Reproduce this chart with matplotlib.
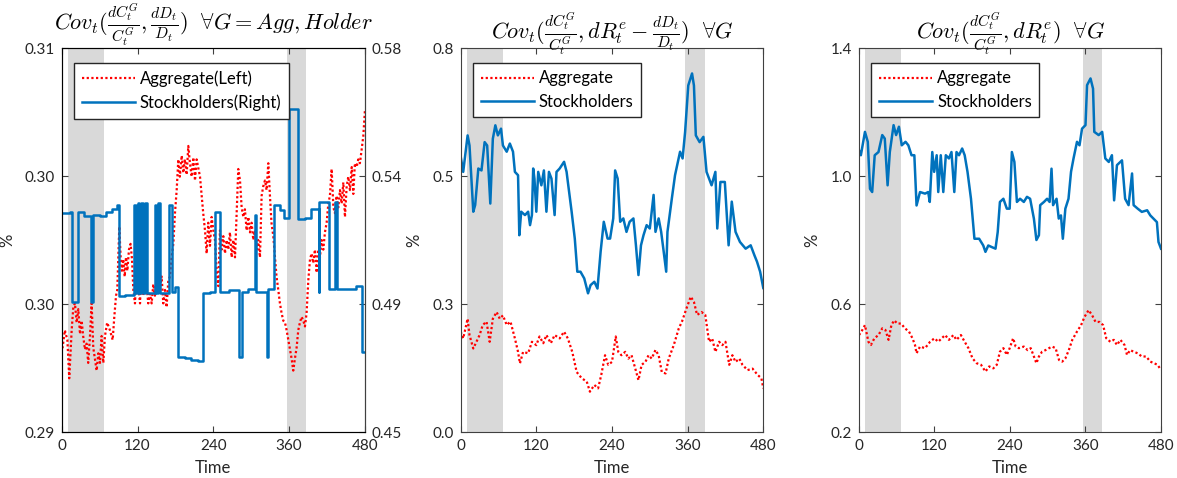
import numpy as np
import matplotlib
matplotlib.use('Agg')
import matplotlib.pyplot as plt
from matplotlib.ticker import FormatStrFormatter

plt.rcParams['font.family'] = ['Lato', 'DejaVu Sans']
plt.rcParams['mathtext.fontset'] = 'cm'

blue = '#0072BD'
shade = '#d9d9d9'
axis_grey = '#404040'
text_grey = '#262626'

# recession bands (months)
bands = [(10, 67), (356, 387)]

# panel 1: aggregate (left axis)
agg1_t = [0, 1.5, 5, 9, 12, 15.8, 18.4, 21, 23.7, 26.3, 29, 31.6, 34, 36.9, 39.5, 42,
          44.8, 47.4, 50, 52.7, 55.3, 58, 60.6, 63.2, 65.9, 68.5, 72, 76.4, 80.7, 83.3,
          86, 88, 91.2, 93.3, 95.4, 97.5, 99.7, 101.8, 103.9, 106.5, 109, 111.3, 113.4,
          116, 118.7, 121.3, 124, 126.5, 129, 131.8, 134.5, 137, 139.7, 142.4, 145,
          147.6, 150.3, 154.5, 158.2, 160.8, 163.5, 166, 168.8, 171.4, 174, 176.7, 179.3,
          182, 184.6, 187, 190, 192.5, 195, 197.8, 200.4, 203, 205.7, 208.3, 211, 213.6,
          216, 218.9, 221.5, 224, 226.8, 229.4, 232, 234.7, 237.3, 240, 242.6, 245.2,
          247.9, 250.5, 253, 255.8, 258.4, 261, 263.7, 266.3, 269, 271.6, 274.3, 276.9,
          279.5, 282.2, 284.8, 287.5, 290, 292.7, 295.4, 298, 300.6, 303.3, 306, 308.5,
          311, 313.8, 316.4, 319, 321.7, 324.3, 327, 329.6, 332, 334.9, 337.5, 340, 342.8,
          345.4, 348, 350.7, 353.4, 356, 358.6, 361.3, 364, 366.5, 369, 371.8, 374.4, 377,
          379.7, 382.4, 385, 387.6, 390.3, 393, 395.5, 398, 400.8, 403.5, 406, 408.7,
          411.4, 414, 416.6, 419.3, 422, 424.5, 427.2, 430, 432.4, 435, 437.8, 440.4, 443,
          445.7, 448.3, 451, 453.6, 456.2, 459, 461.5, 464, 466.8, 469.4, 472, 474.7,
          477.3, 480]
agg1_v = [0.2944, 0.2944, 0.2953, 0.2948, 0.2928, 0.2953, 0.2965, 0.2967, 0.2957, 0.2964,
          0.2951, 0.2958, 0.2950, 0.2943, 0.2946, 0.2936, 0.2950, 0.2967, 0.2944, 0.2938,
          0.2932, 0.2941, 0.2936, 0.2950, 0.2936, 0.2950, 0.2957, 0.2953, 0.2948, 0.2960,
          0.2971, 0.2974, 0.3007, 0.2991, 0.2984, 0.2990, 0.2981, 0.2991, 0.2984, 0.2995,
          0.2998, 0.2990, 0.2974, 0.2967, 0.2984, 0.2976, 0.2967, 0.2988, 0.2971, 0.2984,
          0.2976, 0.2967, 0.2972, 0.2967, 0.2977, 0.2971, 0.2979, 0.2974, 0.2981, 0.2967,
          0.2974, 0.2965, 0.2979, 0.2981, 0.2991, 0.2998, 0.3014, 0.3026, 0.3042, 0.3033,
          0.3044, 0.3035, 0.3042, 0.3034, 0.3049, 0.3040, 0.3033, 0.3043, 0.3031, 0.3042,
          0.3038, 0.3033, 0.3023, 0.3014, 0.3005, 0.2993, 0.3009, 0.2997, 0.3012, 0.3005,
          0.3000, 0.2984, 0.2976, 0.3005, 0.2995, 0.3002, 0.2993, 0.3000, 0.2995, 0.3004,
          0.2991, 0.3000, 0.2991, 0.3014, 0.3037, 0.3031, 0.3017, 0.3012, 0.3016, 0.3005,
          0.3012, 0.3004, 0.3009, 0.3000, 0.3005, 0.2995, 0.3000, 0.2991, 0.3023, 0.3028,
          0.3031, 0.3026, 0.3040, 0.3023, 0.3009, 0.3002, 0.2991, 0.2981, 0.2974, 0.2967,
          0.2962, 0.2958, 0.2957, 0.2953, 0.2948, 0.2943, 0.2938, 0.2932, 0.2938, 0.2944,
          0.2953, 0.2957, 0.2960, 0.2958, 0.2955, 0.2962, 0.2979, 0.2990, 0.2993, 0.2988,
          0.2995, 0.2983, 0.2995, 0.2991, 0.3000, 0.2995, 0.3004, 0.3009, 0.3019, 0.3023,
          0.3037, 0.3017, 0.3014, 0.3023, 0.3017, 0.3026, 0.3019, 0.3030, 0.3012, 0.3028,
          0.3033, 0.3026, 0.3038, 0.3024, 0.3040, 0.3038, 0.3042, 0.3040, 0.3047, 0.3054,
          0.3068]

# panel 1: stockholders (right axis), piecewise constant
hold1_t = [0, 13, 16, 26, 35, 46.5, 49.5, 60, 70, 80, 87, 90, 100, 114, 117.5, 120, 123,
           125.5, 129, 131.5, 134.5, 147.5, 150, 152.5, 155.5, 170, 174, 180, 184.5, 195,
           205, 215, 224, 235, 243, 251, 265, 280, 285, 295, 306, 308, 325, 327, 336, 345,
           352, 359, 374, 385, 395, 406.5, 408, 423, 433, 435, 450, 465, 474.5, 480]
hold1_v = [0.5240, 0.5245, 0.4940, 0.5245, 0.5230, 0.4940, 0.5235, 0.5230, 0.5245, 0.5255,
           0.5270, 0.4960, 0.4965, 0.5270, 0.4970, 0.5275, 0.4970, 0.5275, 0.4970, 0.5275,
           0.4970, 0.5270, 0.4970, 0.5275, 0.4970, 0.5270, 0.4975, 0.4990, 0.4755, 0.4750,
           0.4745, 0.4740, 0.4970, 0.4975, 0.5245, 0.4975, 0.4980, 0.4755, 0.4975, 0.4985,
           0.5235, 0.4975, 0.4755, 0.4985, 0.5270, 0.5250, 0.5225, 0.5595, 0.5220, 0.5225,
           0.5255, 0.4975, 0.5280, 0.4985, 0.5280, 0.4985, 0.4985, 0.4995, 0.4770, 0.4770]

# panel 2: Cov(dC/C, dR - dD/D)
hold2_t = [0, 4, 11, 14, 20, 23, 28, 33, 38, 42, 47, 51, 55, 59, 64, 67, 73, 78, 83, 86,
           91, 93, 96, 102, 107, 110, 113, 115, 117, 120, 123, 128, 132, 136, 140, 144,
           149, 152, 157, 164, 168, 170, 176, 181, 185, 190, 196, 202, 206, 212, 217, 222,
           227, 233, 237, 242, 245, 249, 253, 258, 263, 268, 274, 278, 282, 286, 290, 295,
           300, 306, 309, 314, 318, 322, 326, 328, 335, 340, 348, 352, 356, 361, 367, 370,
           373, 379, 385, 390, 398, 404, 407, 412, 419, 425, 430, 436, 443, 452, 460, 466,
           470, 475, 480]
hold2_v = [0.574, 0.542, 0.618, 0.597, 0.459, 0.473, 0.549, 0.545, 0.604, 0.597, 0.476,
           0.611, 0.639, 0.618, 0.632, 0.597, 0.584, 0.601, 0.584, 0.542, 0.535, 0.410,
           0.459, 0.452, 0.459, 0.431, 0.452, 0.549, 0.528, 0.459, 0.542, 0.514, 0.545,
           0.459, 0.542, 0.528, 0.452, 0.542, 0.549, 0.563, 0.542, 0.521, 0.459, 0.403,
           0.334, 0.334, 0.320, 0.289, 0.306, 0.313, 0.299, 0.376, 0.438, 0.403, 0.403,
           0.445, 0.545, 0.528, 0.438, 0.445, 0.417, 0.438, 0.445, 0.389, 0.327, 0.389,
           0.410, 0.431, 0.424, 0.494, 0.417, 0.445, 0.417, 0.376, 0.334, 0.417, 0.487,
           0.535, 0.584, 0.570, 0.625, 0.722, 0.747, 0.722, 0.618, 0.604, 0.615, 0.542,
           0.514, 0.542, 0.424, 0.521, 0.521, 0.389, 0.480, 0.417, 0.396, 0.382, 0.389,
           0.368, 0.355, 0.334, 0.300]
agg2_t = [0, 4, 11, 14, 20, 25, 30, 35, 41, 46, 51, 57, 62, 67, 73, 79, 86, 91, 94, 99,
          107, 113, 120, 125, 131, 136, 143, 149, 157, 164, 170, 177, 184, 192, 200, 205,
          212, 218, 223, 229, 234, 240, 246, 250, 255, 261, 266, 271, 277, 282, 287, 293,
          298, 303, 309, 314, 319, 325, 330, 338, 346, 351, 358, 365, 370, 375, 382, 388,
          394, 399, 404, 410, 415, 420, 426, 431, 436, 442, 447, 455, 463, 471, 477, 480]
agg2_v = [0.209, 0.195, 0.236, 0.202, 0.174, 0.188, 0.202, 0.223, 0.230, 0.188, 0.236,
          0.250, 0.236, 0.243, 0.223, 0.230, 0.195, 0.167, 0.143, 0.167, 0.164, 0.188,
          0.181, 0.199, 0.185, 0.202, 0.185, 0.202, 0.195, 0.209, 0.195, 0.167, 0.125,
          0.112, 0.105, 0.084, 0.098, 0.091, 0.119, 0.160, 0.140, 0.146, 0.199, 0.167,
          0.160, 0.167, 0.153, 0.160, 0.132, 0.108, 0.140, 0.146, 0.160, 0.153, 0.171,
          0.160, 0.125, 0.122, 0.153, 0.181, 0.216, 0.230, 0.257, 0.282, 0.271, 0.244,
          0.250, 0.244, 0.188, 0.195, 0.167, 0.188, 0.181, 0.188, 0.140, 0.160, 0.146,
          0.153, 0.140, 0.129, 0.132, 0.119, 0.112, 0.091]

# panel 3: Cov(dC/C, dR)
hold3_t = [0, 3, 9.5, 14, 17.5, 21, 25, 31, 37, 41, 45.5, 49, 55, 59, 63.5, 68, 74, 78.5,
           83.5, 88, 91.5, 97, 105, 110, 112.5, 116.5, 119.5, 123.5, 126, 130, 134, 138,
           143, 147, 151.5, 155, 159, 164, 168, 172.5, 178, 183.5, 191, 197.5, 201, 205.5,
           211, 217, 220.5, 224, 229.5, 235, 239.5, 243, 247, 251, 256, 262, 267, 272, 278,
           282, 286, 288, 294, 299, 303, 306, 308.5, 314, 317.5, 321, 324, 328, 333, 337,
           341, 346.5, 350.5, 354.5, 360, 362.5, 368, 372, 374, 381, 386.5, 391.5, 397,
           402, 405.5, 410, 418, 423, 428.5, 434, 436.5, 443, 449.5, 458, 463, 468, 473.5,
           476, 480]
hold3_v = [1.081, 1.065, 1.138, 1.107, 0.960, 0.950, 1.065, 1.075, 1.128, 1.117, 0.971,
           1.075, 1.159, 1.128, 1.154, 1.096, 1.107, 1.096, 1.065, 1.065, 0.908, 0.950,
           0.945, 0.950, 0.919, 1.075, 1.013, 1.065, 0.950, 1.065, 0.950, 1.065, 1.055,
           1.075, 0.950, 1.075, 1.065, 1.086, 1.065, 1.013, 0.929, 0.804, 0.804, 0.783,
           0.763, 0.783, 0.778, 0.773, 0.825, 0.919, 0.929, 0.898, 0.898, 1.075, 1.044,
           0.919, 0.929, 0.919, 0.935, 0.929, 0.867, 0.800, 0.815, 0.909, 0.919, 0.929,
           0.919, 1.023, 0.909, 0.929, 0.867, 0.877, 0.804, 0.898, 0.929, 1.013, 1.055,
           1.107, 1.096, 1.148, 1.159, 1.284, 1.305, 1.273, 1.138, 1.128, 1.138, 1.055,
           1.044, 1.065, 0.924, 1.034, 1.049, 0.929, 0.909, 1.008, 0.909, 0.898, 0.888,
           0.893, 0.877, 0.867, 0.856, 0.794, 0.773]
agg3_t = [0, 4, 9.5, 15, 19, 24.5, 31, 37, 42, 47, 51.5, 56, 61, 67, 73, 79.5, 85, 89,
          91.5, 97, 105, 113, 120, 126, 131.5, 137, 143, 150, 155, 162, 168, 174, 180.5,
          187, 194, 201, 207, 213.5, 219, 224, 229.5, 235, 239.5, 245, 249, 254, 262, 268,
          273, 278, 282, 286, 291, 296.5, 302, 307, 312.5, 318, 323, 328, 333.5, 339,
          346.5, 353, 358.5, 365, 370.5, 376, 382.5, 388, 393, 399.5, 405, 410, 415.5,
          422, 426, 431, 436.5, 443, 449.5, 456.5, 463, 469, 474.5, 480]
agg3_v = [0.503, 0.514, 0.534, 0.482, 0.472, 0.493, 0.503, 0.524, 0.519, 0.488, 0.534,
          0.549, 0.539, 0.539, 0.524, 0.514, 0.493, 0.472, 0.446, 0.467, 0.462, 0.482,
          0.493, 0.482, 0.493, 0.503, 0.488, 0.503, 0.488, 0.503, 0.482, 0.462, 0.430,
          0.415, 0.410, 0.389, 0.405, 0.399, 0.410, 0.451, 0.462, 0.441, 0.462, 0.493,
          0.467, 0.462, 0.467, 0.456, 0.462, 0.436, 0.415, 0.436, 0.451, 0.456, 0.462,
          0.467, 0.462, 0.425, 0.420, 0.430, 0.456, 0.488, 0.514, 0.534, 0.560, 0.581,
          0.565, 0.544, 0.544, 0.534, 0.493, 0.482, 0.488, 0.472, 0.488, 0.472, 0.441,
          0.456, 0.451, 0.446, 0.436, 0.436, 0.420, 0.415, 0.410, 0.394]

titles = [r'$Cov_t(\frac{dC_t^G}{C_t^G},\frac{dD_t}{D_t})\ \ \forall G = Agg, Holder$',
          r'$Cov_t(\frac{dC_t^G}{C_t^G},dR_t^e - \frac{dD_t}{D_t})\ \ \forall G$',
          r'$Cov_t(\frac{dC_t^G}{C_t^G},dR_t^e)\ \ \forall G$']

dotted = (0, (1, 1.1))


def style_axis(ax, ylabel_x):
    ax.set_xlim(0, 480)
    ax.set_xticks([0, 120, 240, 360, 480])
    ax.tick_params(direction='in', length=4, width=0.8, colors=axis_grey,
                   labelsize=11, labelcolor=text_grey, top=True, pad=5)
    for sp in ax.spines.values():
        sp.set_color(axis_grey)
        sp.set_linewidth(0.8)
    ax.set_xlabel('Time', fontsize=12, color=text_grey, labelpad=5)
    ax.set_ylabel('%', fontsize=12, color=text_grey)
    ax.yaxis.set_label_coords(ylabel_x, 0.5)
    for a, b in bands:
        ax.axvspan(a, b, color=shade, lw=0, zorder=0)


def add_legend(ax, handles, labels):
    ax.legend(handles, labels, loc='upper left', bbox_to_anchor=(0.03, 0.97),
              fontsize=12, frameon=True, fancybox=False, framealpha=1,
              edgecolor=text_grey, handlelength=3.2, borderpad=0.45,
              labelspacing=0.45, handletextpad=0.3, borderaxespad=0.2)


fig = plt.figure(figsize=(11.77, 4.78), dpi=100)
lefts = [0.0524, 0.3914, 0.7298]
widths = [0.2577, 0.2571, 0.2566]
label_x = [-0.152, -0.128, -0.129]
axes = [fig.add_axes([l, 0.0962, w, 0.8033]) for l, w in zip(lefts, widths)]

# left panel with twin y-axis
ax = axes[0]
style_axis(ax, label_x[0])
l1, = ax.plot(agg1_t, agg1_v, color='red', ls=dotted, lw=1.6)
ax.set_ylim(0.29, 0.31)
ax.set_yticks(np.linspace(0.29, 0.31, 4))
ax.yaxis.set_major_formatter(FormatStrFormatter('%.2f'))
ax2 = ax.twinx()
l2, = ax2.plot(hold1_t, hold1_v, color=blue, lw=1.8, drawstyle='steps-post')
ax2.set_ylim(0.45, 0.58)
ax2.set_yticks(np.linspace(0.45, 0.58, 4))
ax2.yaxis.set_major_formatter(FormatStrFormatter('%.2f'))
ax2.tick_params(direction='in', length=4, width=0.8, colors=axis_grey,
                labelsize=11, labelcolor=text_grey, pad=5)
ax2.spines['right'].set_color(axis_grey)
add_legend(ax2, [l1, l2], ['Aggregate(Left)', 'Stockholders(Right)'])
ax.set_title(titles[0], fontsize=16, pad=7)

# middle and right panels
panel_data = [(agg2_t, agg2_v, hold2_t, hold2_v, (0.0, 0.8)),
              (agg3_t, agg3_v, hold3_t, hold3_v, (0.2, 1.4))]
for ax, (at, av, ht, hv, lim), title, lx in zip(axes[1:], panel_data, titles[1:], label_x[1:]):
    style_axis(ax, lx)
    ax.tick_params(right=True)
    la, = ax.plot(at, av, color='red', ls=dotted, lw=1.6)
    lh, = ax.plot(ht, hv, color=blue, lw=1.8)
    ax.set_ylim(*lim)
    ax.set_yticks(np.linspace(lim[0], lim[1], 4))
    ax.yaxis.set_major_formatter(FormatStrFormatter('%.1f'))
    add_legend(ax, [la, lh], ['Aggregate', 'Stockholders'])
    ax.set_title(title, fontsize=16, pad=7)

fig.savefig('out.png', dpi=100)
